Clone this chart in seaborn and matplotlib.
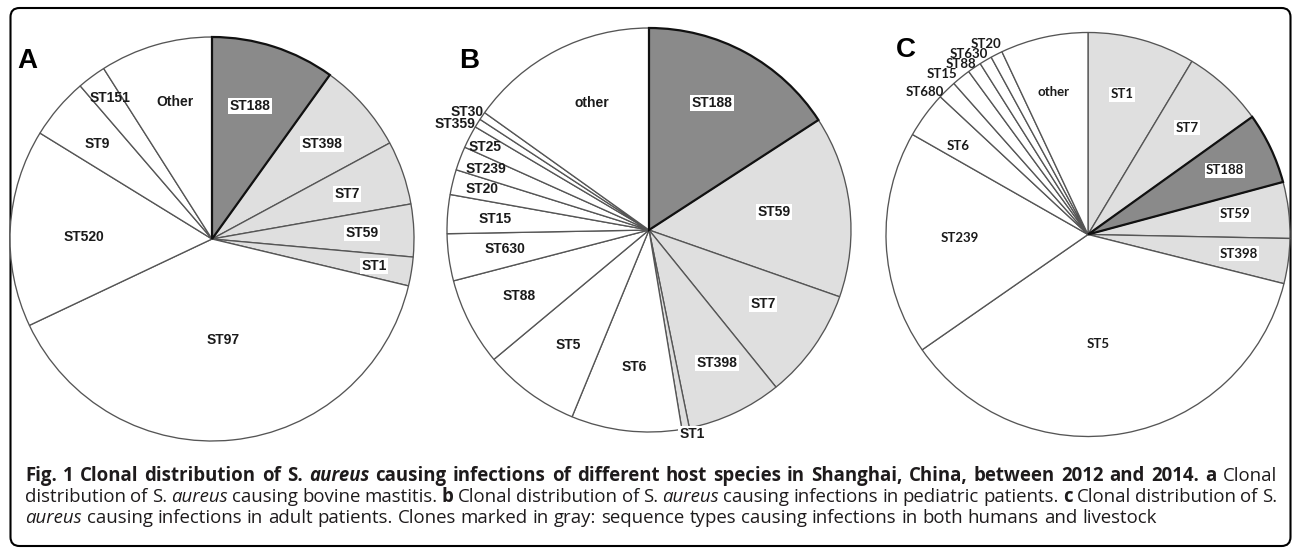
import matplotlib
matplotlib.use("Agg")
import matplotlib.pyplot as plt
from matplotlib.patches import FancyBboxPatch
import numpy as np
import pandas as pd
import seaborn as sns

# ---------------- data (percent of isolates) ----------------
a_labels = ["ST188", "ST398", "ST7", "ST59", "ST1", "ST97", "ST520", "ST9", "ST151", "Other"]
a_values = [9.9, 7.2, 5.1, 4.2, 2.3, 39.2, 15.8, 4.9, 2.3, 9.0]

b_labels = ["ST188", "ST59", "ST7", "ST398", "ST1", "ST6", "ST5", "ST88", "ST630",
            "ST15", "ST20", "ST239", "ST25", "ST359", "ST30", "other"]
b_values = [15.8, 14.5, 8.8, 7.6, 0.6, 8.8, 7.7, 7.0, 3.75, 3.1, 2.0, 1.9, 1.8, 0.7, 0.64, 15.1]

c_labels = ["ST1", "ST7", "ST188", "ST59", "ST398", "ST5", "ST239", "ST6", "ST680",
            "ST15", "ST88", "ST630", "ST20", "other"]
c_values = [8.6, 6.5, 5.7, 4.5, 3.6, 36.4, 17.9, 3.7, 1.5, 1.5, 1.1, 1.0, 0.95, 7.0]

dark_types = ["ST188"]
light_types = ["ST1", "ST7", "ST59", "ST398"]

panel_letters = ["A", "B", "C"]

# ---------------- layout (pixels) ----------------
W, H = 1293, 549
R = 202
centers = [(212, 239), (649, 230), (1088, 234.5)]
letter_pos = [(27.5, 61.5), (469, 60.5), (906, 50)]

# label offsets from pie centre (dx right, dy down), pixels
a_off = {"ST188": (38, -133), "ST398": (110, -95), "ST7": (135, -45), "ST59": (150, -6),
         "ST1": (162, 27), "ST97": (11, 101), "ST520": (-128, -2), "ST9": (-115, -95),
         "ST151": (-102, -141), "Other": (-37, -137)}
b_off = {"other": (-57, -127), "ST188": (63, -127), "ST59": (125, -18), "ST7": (114, 74),
         "ST398": (68, 133), "ST1": (43, 204), "ST6": (-15, 137), "ST5": (-81, 115),
         "ST88": (-130, 66), "ST630": (-144, 19), "ST15": (-154, -11), "ST20": (-167, -41),
         "ST239": (-163, -61), "ST25": (-164, -83), "ST359": (-194, -106), "ST30": (-182, -118)}
c_off = {"other": (-34, -143), "ST1": (34, -140), "ST7": (99, -107), "ST188": (137, -64),
         "ST59": (147, -20), "ST398": (151, 19), "ST5": (10, 109), "ST239": (-128, 3),
         "ST6": (-130, -89), "ST680": (-163, -143), "ST15": (-146, -160), "ST88": (-127, -170),
         "ST630": (-119, -181), "ST20": (-102, -191)}

DARK, LIGHT, WHITE = "#8a8a8a", "#dfdfdf", "#ffffff"
EDGE = "#555555"

sns.set_theme(style="white")
plt.rcParams["font.family"] = ["Liberation Sans", "DejaVu Sans"]

fig = plt.figure(figsize=(W / 100, H / 100), dpi=100)
fig.patch.set_facecolor("white")
ax = fig.add_axes([0, 0, 1, 1])


def Y(y_px):
    return H - y_px


# rounded outer frame
frame = FancyBboxPatch((10.5, Y(546)), 1280, 538, boxstyle="round,pad=0,rounding_size=9",
                       linewidth=1.5, edgecolor="black", facecolor="none", zorder=0)
ax.add_patch(frame)

panels = [(a_labels, a_values, a_off, ["Liberation Sans", "DejaVu Sans"], 10),
          (b_labels, b_values, b_off, ["Liberation Sans", "DejaVu Sans"], 10),
          (c_labels, c_values, c_off, ["Lato", "DejaVu Sans"], 9.5)]

for (labels, values, offs, fam, fs), (cx, cy), letter, (lx, ly) in zip(
        panels, centers, panel_letters, letter_pos):
    df = pd.DataFrame({"type": labels, "pct": values})
    cols = [DARK if t in dark_types else LIGHT if t in light_types else WHITE for t in df["type"]]
    wedges, _ = ax.pie(df["pct"], colors=cols, startangle=90, counterclock=False,
                       radius=R, center=(cx, Y(cy)), frame=True,
                       wedgeprops=dict(edgecolor=EDGE, linewidth=0.95))
    for wdg, t in zip(wedges, df["type"]):
        wdg.set_zorder(2)
        if t in dark_types:
            wdg.set_edgecolor("#111111")
            wdg.set_linewidth(1.6)
            wdg.set_zorder(3)
    for t in df["type"]:
        dx, dy = offs[t]
        boxed = t in dark_types or t in light_types
        ax.text(cx + dx, Y(cy + dy), t, ha="center", va="center", fontsize=fs,
                fontweight="bold", family=fam, color="#1a1a1a", zorder=5,
                bbox=dict(boxstyle="square,pad=0.08", fc="white", ec="none") if boxed else None)
    ax.text(lx, Y(ly), letter, ha="center", va="center", fontsize=20, fontweight="bold",
            family=["Liberation Sans", "DejaVu Sans"], color="black", zorder=6)

ax.set_xlim(0, W)
ax.set_ylim(0, H)
ax.set_aspect("equal")
ax.set_axis_off()

# ---------------- caption ----------------
B, N, I = "bold", "normal", "italic"
cap_lines = [
    ([("Fig. 1 Clonal distribution of S.", B, N), ("aureus", B, I),
      ("causing infections of different host species in Shanghai, China, between 2012 and 2014. a", B, N),
      ("Clonal", N, N)], True),
    ([("distribution of S.", N, N), ("aureus", N, I), ("causing bovine mastitis.", N, N), ("b", B, N),
      ("Clonal distribution of S.", N, N), ("aureus", N, I),
      ("causing infections in pediatric patients.", N, N), ("c", B, N),
      ("Clonal distribution of S.", N, N)], True),
    ([("aureus", N, I),
      ("causing infections in adult patients. Clones marked in gray: sequence types causing infections in both humans and livestock", N, N)], False),
]
baselines = [481, 502.5, 523]
x0, x1 = 25, 1277
cap_fs = 13.4
cap_fam = ["Open Sans", "DejaVu Sans"]
cap_col = "#1e1b1c"

fig.canvas.draw()
renderer = fig.canvas.get_renderer()


def width_of(s, wt, st):
    t = ax.text(0, 0, s, fontsize=cap_fs, fontweight=wt, fontstyle=st, family=cap_fam)
    w = t.get_window_extent(renderer).width
    t.remove()
    return w


space_w = width_of("x x", N, N) - width_of("xx", N, N)

for (segs, justify), yb in zip(cap_lines, baselines):
    words = []
    for s, wt, st in segs:
        for w in s.split():
            words.append((w, wt, st))
    widths = [width_of(w, wt, st) for w, wt, st in words]
    if justify:
        gap = max((x1 - x0 - sum(widths)) / (len(words) - 1), 0.6 * space_w)
    else:
        gap = space_w
    x = x0
    for (w, wt, st), ww in zip(words, widths):
        ax.text(x, Y(yb), w, ha="left", va="baseline", fontsize=cap_fs, fontweight=wt,
                fontstyle=st, family=cap_fam, color=cap_col, zorder=6)
        x += ww + gap

fig.savefig("out.png", dpi=100, facecolor="white")
